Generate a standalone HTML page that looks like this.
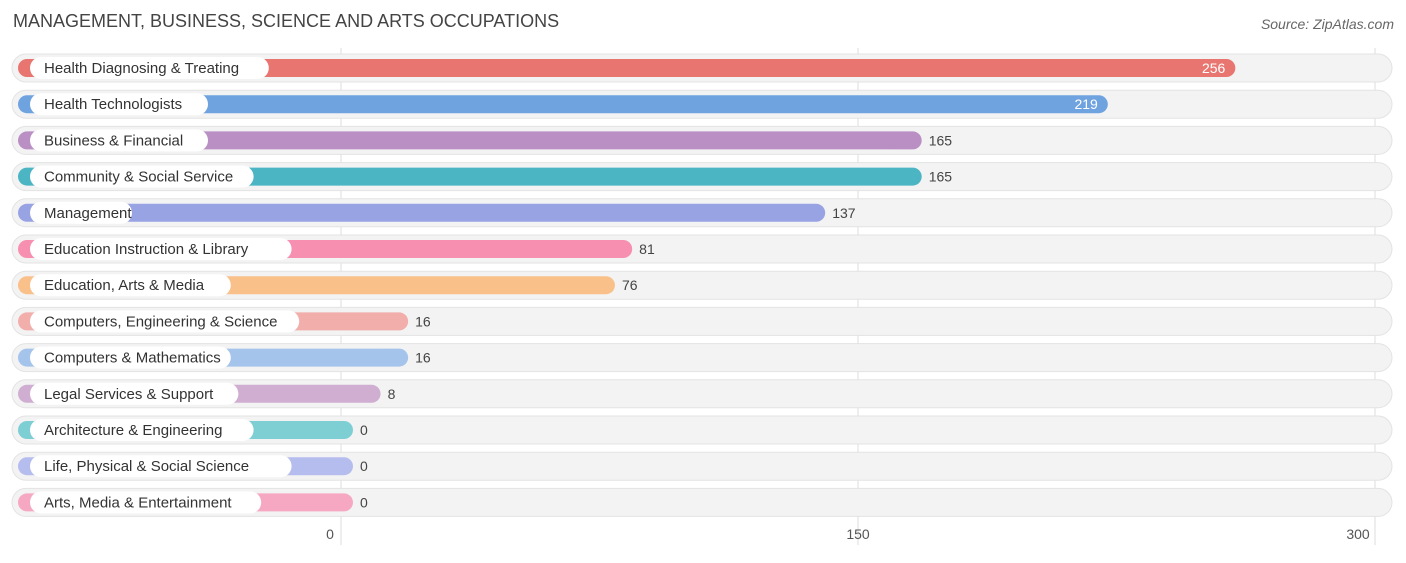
<!DOCTYPE html>
<html><head><meta charset="utf-8"><style>
body{margin:0;background:#fff;font-family:"Liberation Sans",sans-serif;}
#wrap{position:relative;width:1406px;height:558px;}
</style></head><body>
<div id="wrap">
<svg id="svg" width="1406" height="558" xmlns="http://www.w3.org/2000/svg" font-family="Liberation Sans, sans-serif">
<text x="13" y="27" font-size="18" fill="#444">MANAGEMENT, BUSINESS, SCIENCE AND ARTS OCCUPATIONS</text>
<text x="1394" y="29" font-size="14" fill="#666" font-style="italic" text-anchor="end">Source: ZipAtlas.com</text>
<g id="grid"></g><g id="rows"></g><g id="ticks"></g>
</svg>
</div>
<script>
const categories=["Health Diagnosing & Treating","Health Technologists","Business & Financial","Community & Social Service","Management","Education Instruction & Library","Education, Arts & Media","Computers, Engineering & Science","Computers & Mathematics","Legal Services & Support","Architecture & Engineering","Life, Physical & Social Science","Arts, Media & Entertainment"];
const values=[256,219,165,165,137,81,76,16,16,8,0,0,0];
const colors=["#e8756f","#6fa3e0","#b98fc4","#4bb5c4","#98a3e3","#f68fb0","#f9c08a","#f2aeaa","#a5c4ec","#d0aed2","#7ecfd4","#b5bdef","#f6a8c3"];
const tickValues=[0,150,300];
const NS="http://www.w3.org/2000/svg";
const x=v=>341+v*(517/150);
const rowY=i=>68+i*36.2;
function mk(tag,attrs,parent){const e=document.createElementNS(NS,tag);for(const k in attrs)e.setAttribute(k,attrs[k]);parent.appendChild(e);return e;}
const grid=document.getElementById('grid'),rows=document.getElementById('rows'),ticks=document.getElementById('ticks');
tickValues.forEach(t=>{
 const l=mk('line',{x1:x(t),x2:x(t),y1:48,y2:545,stroke:'#ddd','stroke-width':1},grid);
 
 
 const tx=mk('text',{x:x(t)-(t==300?17:t==0?11:0),y:539,'font-size':14,fill:'#555','text-anchor':'middle'},ticks);
 tx.textContent=t;
 
 
});
categories.forEach((c,i)=>{
 const cy=rowY(i);
 const g=mk('g',{},rows);
 
 
 const bg=mk('rect',{x:12,y:cy-14,width:1380,height:28,rx:14,fill:'#f3f3f3',stroke:'#e3e3e3'},g);
 
 
 const end=x(values[i])+12;
 const b=mk('rect',{x:18,y:cy-9,width:end-18,height:18,rx:9,fill:colors[i]},g);
 
 
 const w=c.length*7.6+26;
 const lp=mk('rect',{x:30,y:cy-11,width:w,height:22,rx:11,fill:'#fff'},g);
 
 
 const lt=mk('text',{x:44,y:cy+5,'font-size':15,fill:'#333'},g);
 lt.textContent=c;
 
 
 const inside=values[i]>200;
 const vt=mk('text',{x:inside?end-10:end+7,y:cy+5,'font-size':14,fill:inside?'#fff':'#444','text-anchor':inside?'end':'start'},g);
 vt.textContent=values[i];
 
 
});
</script>
</body></html>
